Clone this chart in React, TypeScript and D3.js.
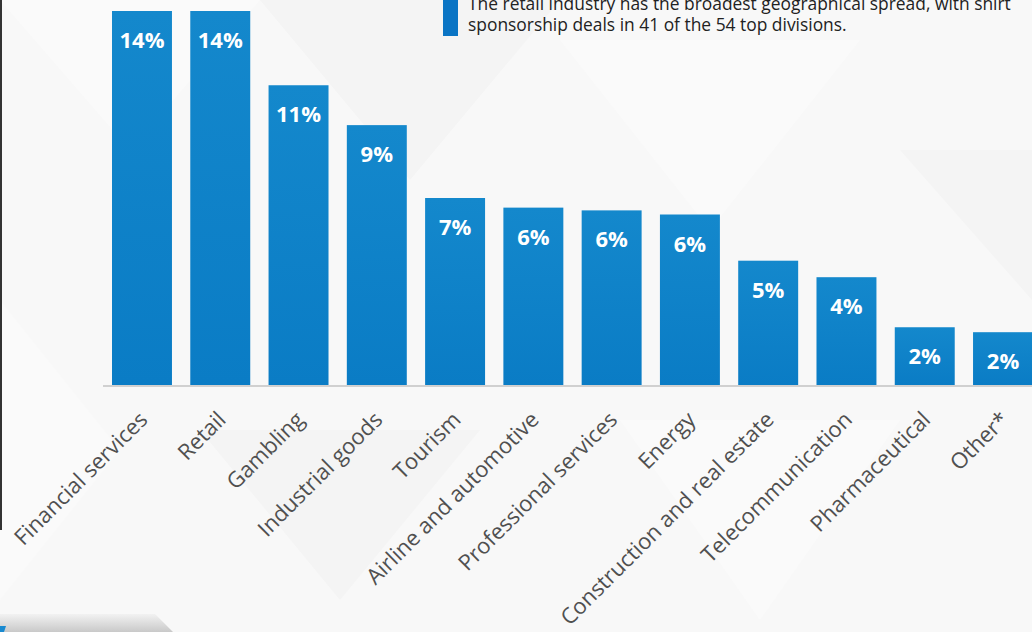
import React from "react";
import * as d3 from "d3";

const categories = [
  "Financial services",
  "Retail",
  "Gambling",
  "Industrial goods",
  "Tourism",
  "Airline and automotive",
  "Professional services",
  "Energy",
  "Construction and real estate",
  "Telecommunication",
  "Pharmaceutical",
  "Other*",
];
const shares = [13.6, 13.6, 10.9, 9.45, 6.8, 6.45, 6.35, 6.2, 4.52, 3.92, 2.1, 1.92];
const noteLines = [
  "The retail industry has the broadest geographical spread, with shirt",
  "sponsorship deals in 41 of the 54 top divisions.",
];

const W = 1032;
const H = 632;

export default function App() {
  const x = d3
    .scaleBand<string>()
    .domain(categories)
    .range([103, 1042])
    .paddingInner(0.234)
    .paddingOuter(0.115);
  const y = d3.scaleLinear().domain([0, 13.6]).range([385, 11]);
  const bw = x.bandwidth();

  const bgTris: [number, number][][] = [
    [[0, 0], [260, 0], [130, 150]],
    [[260, 0], [560, 0], [410, 180]],
    [[560, 40], [860, 40], [710, 230]],
    [[200, 430], [480, 430], [340, 600]],
    [[620, 420], [900, 420], [760, 620]],
    [[900, 150], [1032, 150], [1032, 300]],
    [[0, 300], [120, 450], [0, 600]],
  ];

  return (
    <div style={{ position: "fixed", left: 0, top: 0, width: W, height: H, overflow: "hidden" }}>
      <svg width={W} height={H} style={{ display: "block" }} fontFamily="'Open Sans', sans-serif">
        <defs>
          <linearGradient id="barGrad" x1="0" y1="0" x2="0" y2="1">
            <stop offset="0" stopColor="#1488cc" />
            <stop offset="1" stopColor="#0a7cc5" />
          </linearGradient>
          <linearGradient id="strip" x1="0" y1="0" x2="0" y2="1">
            <stop offset="0" stopColor="#f2f2f2" />
            <stop offset="1" stopColor="#c9c9c9" />
          </linearGradient>
        </defs>
        <rect x={0} y={0} width={W} height={H} fill="#f8f8f8" />
        {bgTris.map((t, i) => (
          <polygon key={i} points={t.map((p) => p.join(",")).join(" ")} fill={i % 2 ? "#f4f4f4" : "#fafafa"} />
        ))}
        <rect x={0} y={0} width={2} height={530} fill="#333" />
        <polygon points="0,614 155,614 173,632 0,632" fill="url(#strip)" />
        <polygon points="0,626 6,626 4,632 0,632" fill="#1a8ad0" />

        <line x1={103} x2={W} y1={386} y2={386} stroke="#d0d0d0" strokeWidth={2} />

        {categories.map((c, i) => {
          const bx = x(c)!;
          const by = y(shares[i]);
          return (
            <g key={c}>
              <rect x={bx} y={by} width={bw} height={385 - by} fill="url(#barGrad)" />
              <text
                x={bx + bw / 2}
                y={by + 37}
                textAnchor="middle"
                fill="#fff"
                fontWeight={700}
                fontSize={22}
              >
                {Math.round(shares[i]) + "%"}
              </text>
              <text
                transform={`translate(${bx + bw / 2 + 7},${421}) rotate(-45)`}
                textAnchor="end"
                fill="#505050"
                fontSize={22}
              >
                {c}
              </text>
            </g>
          );
        })}

        <rect x={443} y={0} width={15} height={36} fill="#0a74c4" />
        {noteLines.map((l, i) => (
          <text key={i} x={468} y={10 + i * 21} fill="#222" fontSize={17.4}>
            {l}
          </text>
        ))}
      </svg>
    </div>
  );
}
